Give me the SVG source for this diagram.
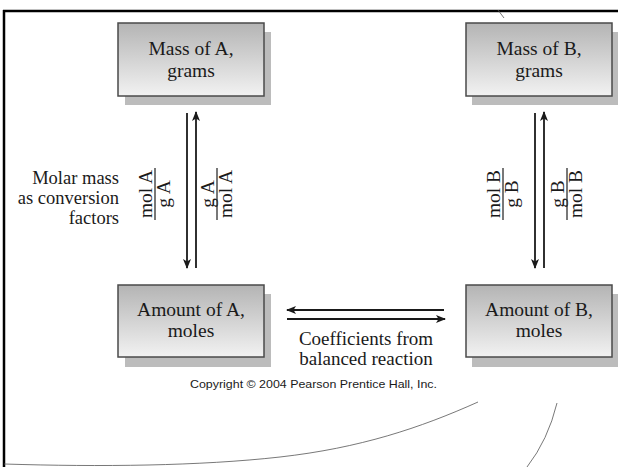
<svg xmlns="http://www.w3.org/2000/svg" width="618" height="467" viewBox="0 0 618 467">
<defs>
<linearGradient id="boxg" x1="0" y1="0" x2="0" y2="1">
<stop offset="0" stop-color="#b4b4b4"/>
<stop offset="1" stop-color="#f2f2f2"/>
</linearGradient>
<marker id="ah" viewBox="0 0 10 8" refX="9" refY="4" markerWidth="10" markerHeight="8" markerUnits="userSpaceOnUse" orient="auto">
<path d="M0,0 L10,4 L0,8 L2.5,4 z" fill="#1a1a1a"/>
</marker>
<style>
.sh{fill:#bcbcbc}
.bx{fill:url(#boxg);stroke:#4a4a4a;stroke-width:1.5}
.t{font-family:"Liberation Serif","Times New Roman",serif;font-size:19.5px;fill:#1a1a1a}
.c{text-anchor:middle}
.r{text-anchor:end;font-size:18.5px}
.fr{font-family:"Liberation Serif","Times New Roman",serif;font-size:19.5px;fill:#1a1a1a;text-anchor:middle}
.bar{stroke:#1e1e1e;stroke-width:1.2}
.ar{stroke:#1a1a1a;stroke-width:1.8;fill:none;marker-end:url(#ah)}
.cv{stroke:#555;stroke-width:0.8;fill:none}
</style>
</defs>
<rect width="618" height="467" fill="#fff"/>
<g id="frame">
<line x1="3" y1="11" x2="618" y2="11" stroke="#000" stroke-width="2.5"/>
<line x1="4" y1="10" x2="4" y2="467" stroke="#000" stroke-width="2.5"/>
<path class="cv" d="M4,464 C100,467 200,466 280,457 C360,448 420,428 478,402"/>
<path class="cv" d="M557,403 Q548,440 527,467"/>
<line class="cv" x1="498" y1="10" x2="504" y2="18"/>
</g>
<g id="massA">
<rect class="sh" x="125" y="32" width="146" height="73"/>
<rect class="bx" x="118" y="23" width="146" height="73"/>
<text class="t c" x="191" y="55">Mass of A,</text>
<text class="t c" x="191" y="77">grams</text>
</g>
<g id="massB">
<rect class="sh" x="472" y="32" width="146" height="73"/>
<rect class="bx" x="466" y="23" width="146" height="73"/>
<text class="t c" x="539" y="55">Mass of B,</text>
<text class="t c" x="539" y="77">grams</text>
</g>
<g id="amountA">
<rect class="sh" x="125" y="294" width="146" height="73"/>
<rect class="bx" x="118" y="285" width="146" height="72"/>
<text class="t c" x="191" y="316">Amount of A,</text>
<text class="t c" x="191" y="337">moles</text>
</g>
<g id="amountB">
<rect class="sh" x="472" y="294" width="146" height="73"/>
<rect class="bx" x="466" y="285" width="146" height="72"/>
<text class="t c" x="539" y="316">Amount of B,</text>
<text class="t c" x="539" y="337">moles</text>
</g>
<g id="connectors">
<line class="ar" x1="187" y1="113" x2="187" y2="268"/>
<line class="ar" x1="196" y1="268" x2="196" y2="112"/>
<line class="ar" x1="535" y1="113" x2="535" y2="268"/>
<line class="ar" x1="544" y1="268" x2="544" y2="112"/>
<line class="ar" x1="444" y1="310" x2="287" y2="310"/>
<line class="ar" x1="287" y1="319" x2="445" y2="319"/>
</g>
<g id="labels">
<text class="t r" x="119" y="184">Molar mass</text>
<text class="t r" x="119" y="204">as conversion</text>
<text class="t r" x="119" y="224">factors</text>
<g transform="translate(155,194) rotate(-90)">
<text class="fr" x="0" y="-3">mol A</text>
<line class="bar" x1="-26" y1="0" x2="26" y2="0"/>
<text class="fr" x="0" y="15">g A</text>
</g>
<g transform="translate(217,194) rotate(-90)">
<text class="fr" x="0" y="-3">g A</text>
<line class="bar" x1="-26" y1="0" x2="26" y2="0"/>
<text class="fr" x="0" y="15">mol A</text>
</g>
<g transform="translate(503,194) rotate(-90)">
<text class="fr" x="0" y="-3">mol B</text>
<line class="bar" x1="-26" y1="0" x2="26" y2="0"/>
<text class="fr" x="0" y="15">g B</text>
</g>
<g transform="translate(567,194) rotate(-90)">
<text class="fr" x="0" y="-3">g B</text>
<line class="bar" x1="-26" y1="0" x2="26" y2="0"/>
<text class="fr" x="0" y="15">mol B</text>
</g>
<text class="t c" x="366" y="345" style="font-size:19px">Coefficients from</text>
<text class="t c" x="366" y="365" style="font-size:19px">balanced reaction</text>
<text x="190" y="388" textLength="247" lengthAdjust="spacingAndGlyphs" style="font-family:'Liberation Sans',Arial,sans-serif;font-size:10.5px;fill:#1a1a1a">Copyright © 2004 Pearson Prentice Hall, Inc.</text>
</g>
</svg>
